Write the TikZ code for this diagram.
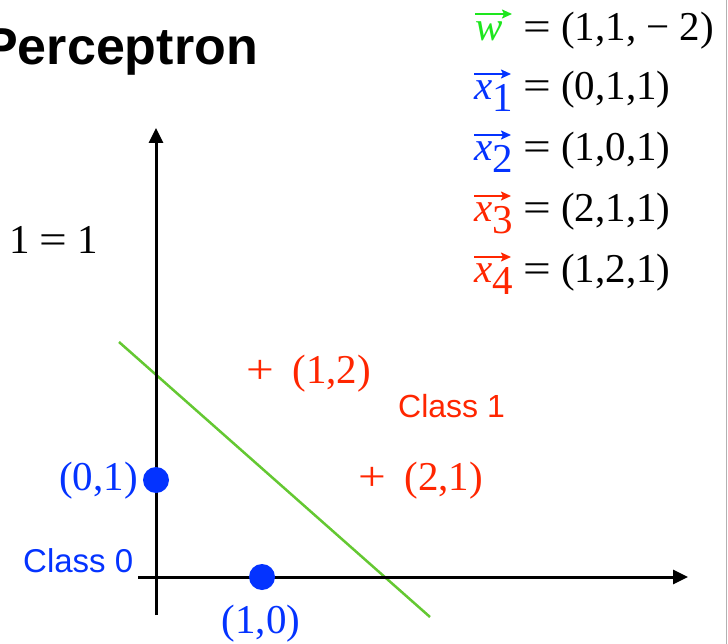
\documentclass[tikz,border=0pt]{standalone}
\usepackage{fontspec}
\setmainfont{Liberation Serif}
\setsansfont{Liberation Sans}
\usetikzlibrary{arrows.meta}
\definecolor{kblue}{RGB}{4,51,255}
\definecolor{kred}{RGB}{255,38,0}
\definecolor{kgreen}{RGB}{30,230,30}
\definecolor{kline}{RGB}{100,200,50}
\newcommand{\eqs}{\scalebox{1.2}[1]{=}}
\newcommand{\pls}{\scalebox{1.2}[1]{+}}
\newcommand{\xsub}[1]{\itshape x\raisebox{-0.28em}{\upshape #1}}
\begin{document}
\begin{tikzpicture}[x=1pt,y=-1pt,
  lbl/.style={inner sep=0pt, font=\fontsize{41}{49}\selectfont},
  cls/.style={inner sep=0pt, font=\sffamily\fontsize{32}{38}\selectfont},
  axis/.style={line width=3pt, -{Triangle[length=15pt,width=14pt]}},
  vec/.style={line width=1.8pt, -{Stealth[length=10pt,width=9pt,inset=2pt]}},
  dot/.style={circle, fill=kblue, inner sep=0pt, minimum size=26pt}]
\clip (0,0) rectangle (728,644);
\fill[white] (0,0) rectangle (728,644);
% right border
\coordinate (bt) at (726,0);
\coordinate (bb) at (726,644);
\draw[black!30, line width=1pt] (bt) -- (bb);
% title
\node[inner sep=0pt, font=\sffamily\bfseries\fontsize{52}{60}\selectfont, anchor=base east] (title) at (258,65) {Perceptron};
% equations
\node[lbl, text=kgreen, anchor=base west] (lw) at (475,41) {\itshape w};
\node[lbl, anchor=base west] (rw) at (523,41) {\eqs{} (1,1, − 2)};
\node[lbl, text=kblue, anchor=base west] (lx1) at (474,100) {\xsub{1}};
\node[lbl, anchor=base west] (rx1) at (523,100) {\eqs{} (0,1,1)};
\node[lbl, text=kblue, anchor=base west] (lx2) at (474,161) {\xsub{2}};
\node[lbl, anchor=base west] (rx2) at (523,161) {\eqs{} (1,0,1)};
\node[lbl, text=kred, anchor=base west] (lx3) at (474,222) {\xsub{3}};
\node[lbl, anchor=base west] (rx3) at (523,222) {\eqs{} (2,1,1)};
\node[lbl, text=kred, anchor=base west] (lx4) at (474,283) {\xsub{4}};
\node[lbl, anchor=base west] (rx4) at (523,283) {\eqs{} (1,2,1)};
\draw[vec, kgreen] ([yshift=27pt]lw.base west) -- ++(37,0);
\draw[vec, kblue] ([yshift=26pt]lx1.base west) -- ++(37,0);
\draw[vec, kblue] ([yshift=26pt]lx2.base west) -- ++(37,0);
\draw[vec, kred] ([yshift=26pt]lx3.base west) -- ++(37,0);
\draw[vec, kred] ([yshift=26pt]lx4.base west) -- ++(37,0);
% 1 = 1
\node[lbl, anchor=base west] (one) at (9,254) {1 \eqs{} 1};
% decision line
\coordinate (ga) at (119,342);
\coordinate (gb) at (430,617);
\draw[kline, line width=2.5pt] (ga) -- (gb);
% axes
\coordinate (yb) at (156,615);
\coordinate (yt) at (156,128);
\coordinate (xl) at (138,577);
\coordinate (xr) at (688,577);
\draw[axis] (yb) -- (yt);
\draw[axis] (xl) -- (xr);
% points
\node[dot] (p01) at (156,480) {};
\node[dot] (p10) at (262,577) {};
\node[lbl, text=kblue, anchor=base east] (l01) at (138,490) {(0,1)};
\node[lbl, text=kblue, anchor=base] (l10) at (261,633) {(1,0)};
\node[lbl, text=kred, anchor=base west] (l12) at (246,383) {\pls\hspace{0.45em}(1,2)};
\node[lbl, text=kred, anchor=base west] (l21) at (358,490) {\pls\hspace{0.45em}(2,1)};
% class labels
\node[cls, text=kred, anchor=base west] (c1) at (398,417) {Class 1};
\node[cls, text=kblue, anchor=base west, font=\sffamily\fontsize{33}{38}\selectfont] (c0) at (23,572) {Class 0};
\end{tikzpicture}
\end{document}
